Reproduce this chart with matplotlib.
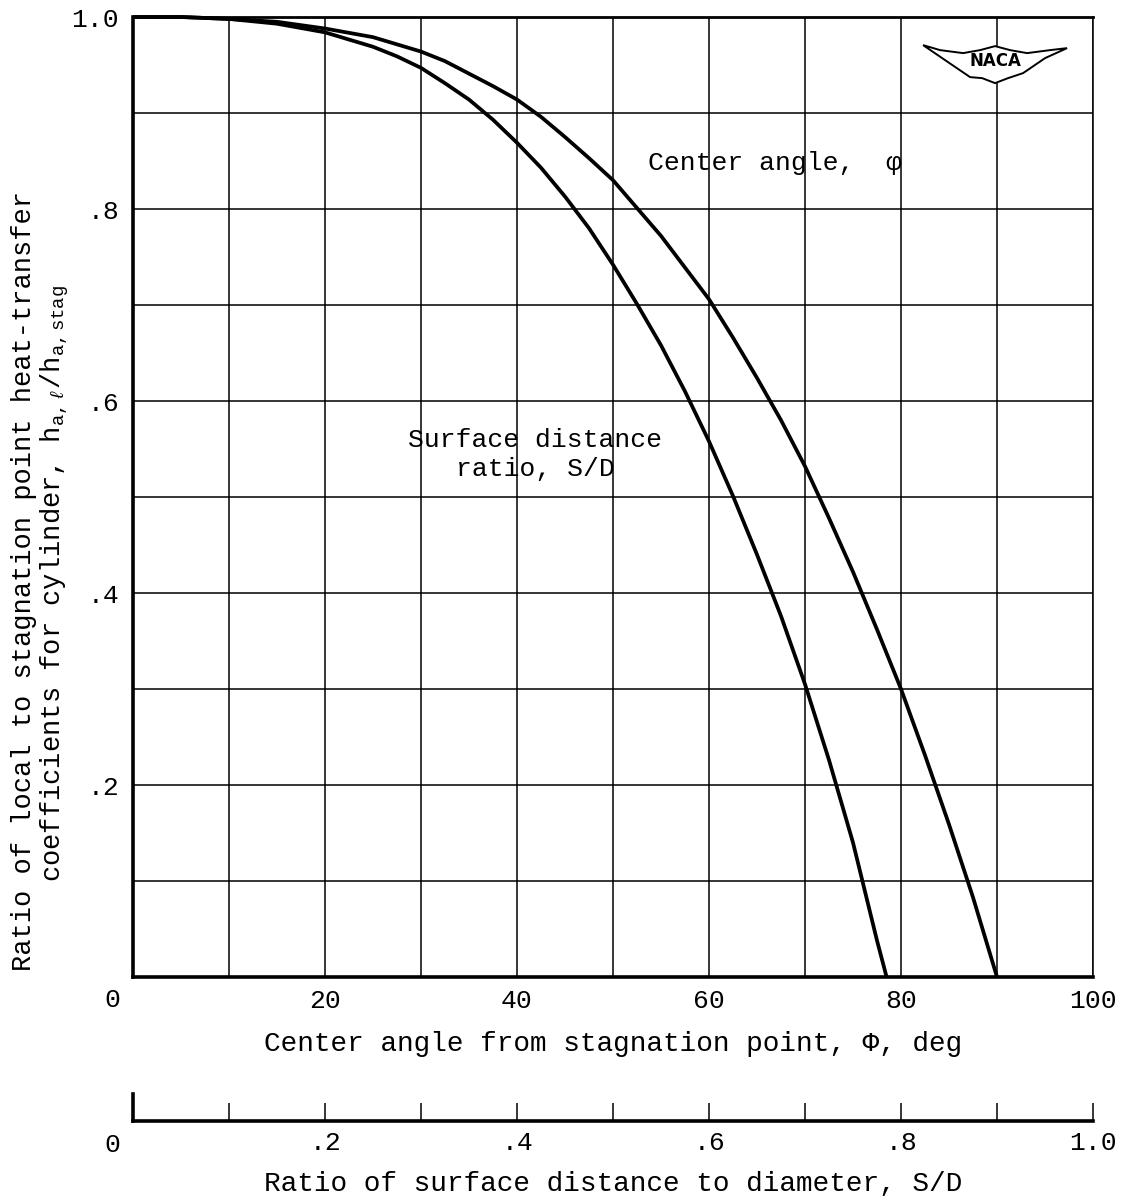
import matplotlib
matplotlib.use('Agg')
import matplotlib.pyplot as plt
from matplotlib.patches import Polygon

plt.rcParams['font.family'] = ['Liberation Mono', 'DejaVu Sans Mono']
plt.rcParams['mathtext.fontset'] = 'custom'
plt.rcParams['mathtext.rm'] = 'Liberation Mono'
plt.rcParams['mathtext.it'] = 'Liberation Mono:italic'

# center angle curve
phi_deg = [0, 5, 10, 15, 20, 25, 30, 32.5, 35, 37.5, 40, 42.5, 45, 47.5, 50,
           52.5, 55, 57.5, 60, 62.5, 65, 67.5, 70, 72.5, 75, 77.5, 80, 82.5,
           85, 87.5, 90]
ratio_phi = [1.0, 1.0, 0.998, 0.995, 0.988, 0.979, 0.964, 0.954, 0.941, 0.928,
             0.914, 0.896, 0.875, 0.853, 0.830, 0.801, 0.772, 0.739, 0.706,
             0.666, 0.624, 0.580, 0.532, 0.478, 0.422, 0.362, 0.300, 0.231,
             0.159, 0.083, 0.0]

# surface distance curve (x = 100 * S/D)
sd_x = [0, 5, 10, 15, 20, 25, 27.5, 30, 32.5, 35, 37.5, 40, 42.5, 45, 47.5,
        50, 52.5, 55, 57.5, 60, 62.5, 65, 67.5, 70, 72.5, 75, 77.5, 78.5]
ratio_sd = [1.0, 1.0, 0.998, 0.993, 0.984, 0.969, 0.959, 0.947, 0.931, 0.914,
            0.893, 0.869, 0.843, 0.813, 0.780, 0.742, 0.701, 0.658, 0.610,
            0.558, 0.501, 0.440, 0.376, 0.305, 0.226, 0.140, 0.038, 0.0]

x_ticks = [0, 20, 40, 60, 80, 100]
y_ticklabels = ['.2', '.4', '.6', '.8', '1.0']
sd_ticklabels = ['.2', '.4', '.6', '.8', '1.0']

W, H = 1122, 1202
fig = plt.figure(figsize=(W / 100, H / 100), dpi=100)

ax = fig.add_axes([133 / W, 1 - 977 / H, 960 / W, 960 / H])
ax.set_xlim(0, 100)
ax.set_ylim(0, 1.0)
ax.set_xticks(range(0, 101, 10))
ax.set_xticklabels(['' if t not in x_ticks or t == 0 else str(t) for t in range(0, 101, 10)])
ax.set_yticks([i / 10 for i in range(11)])
ax.set_yticklabels(['' if i % 2 or i == 0 else y_ticklabels[i // 2 - 1] for i in range(11)])
ax.tick_params(length=0, labelsize=19)
ax.tick_params(axis='x', pad=8.5)
ax.tick_params(axis='y', pad=10)
ax.grid(True, color='black', lw=1.1)
for side in ['left', 'bottom']:
    ax.spines[side].set_linewidth(2.6)
ax.spines['top'].set_linewidth(2.0)
ax.spines['right'].set_linewidth(1.1)

ax.plot(phi_deg, ratio_phi, color='black', lw=2.7, solid_capstyle='butt',
        solid_joinstyle='round', clip_on=False)
ax.plot(sd_x, ratio_sd, color='black', lw=2.7, solid_capstyle='butt',
        solid_joinstyle='round', clip_on=False)

ax.text(-0.022, -0.024, '0', transform=ax.transAxes, ha='center', va='center', fontsize=19)
ax.set_xlabel('Center angle from stagnation point, Φ, deg', fontsize=20, labelpad=13)

ax.text(53.6, 0.848, 'Center angle,  φ', fontsize=19, ha='left', va='center')
ax.text(41.9, 0.544, 'Surface distance\nratio, S/D', fontsize=19, ha='center',
        va='center', multialignment='center', linespacing=1.25)

# NACA wing logo
cx, cy = 0.898, 0.953
wing = [(-72, 17), (-55, 12), (-32, 9), (-15, 12), (0, 16), (15, 12), (32, 9),
        (55, 12), (72, 14), (50, 4), (28, -11), (13, -16), (0, -21), (-13, -16),
        (-25, -15), (-50, 2)]
wing = [(cx + dx / 960, cy + dy / 960) for dx, dy in wing]
ax.add_patch(Polygon(wing, closed=True, facecolor='white', edgecolor='black',
                     lw=1.4, transform=ax.transAxes, zorder=5))
ax.text(cx, cy + 0.001, 'NACA', transform=ax.transAxes, ha='center', va='center',
        fontsize=12, fontweight='bold', family='DejaVu Sans', zorder=6)

# ylabel
fig.text(24 / W, 1 - 581 / H, 'Ratio of local to stagnation point heat-transfer',
         rotation=90, ha='center', va='center', fontsize=19.5)
fig.text(55 / W, 1 - 583 / H,
         r'coefficients for cylinder, h$_{\mathregular{a,}\ell}$/h$_{\mathregular{a,stag}}$',
         rotation=90, ha='center', va='center', fontsize=19.5)

# secondary S/D scale
ax2 = fig.add_axes([133 / W, 1 - 1121 / H, 960 / W, 27 / H])
ax2.set_xlim(0, 1.0)
ax2.set_ylim(0, 1)
ax2.patch.set_visible(False)
for side in ['top', 'right']:
    ax2.spines[side].set_visible(False)
ax2.spines['bottom'].set_linewidth(2.6)
ax2.spines['left'].set_linewidth(2.6)
ax2.set_yticks([])
ax2.set_xticks([i / 10 for i in range(1, 11)])
ax2.set_xticklabels(['' if i % 2 else sd_ticklabels[i // 2 - 1] for i in range(1, 11)])
ax2.tick_params(axis='x', direction='in', length=13, width=1.1, labelsize=19, pad=7)
ax2.text(-0.022, -0.9, '0', transform=ax2.transAxes, ha='center', va='center', fontsize=19)
ax2.set_xlabel('Ratio of surface distance to diameter, S/D', fontsize=20, labelpad=12)

fig.savefig('out.png', dpi=100)
